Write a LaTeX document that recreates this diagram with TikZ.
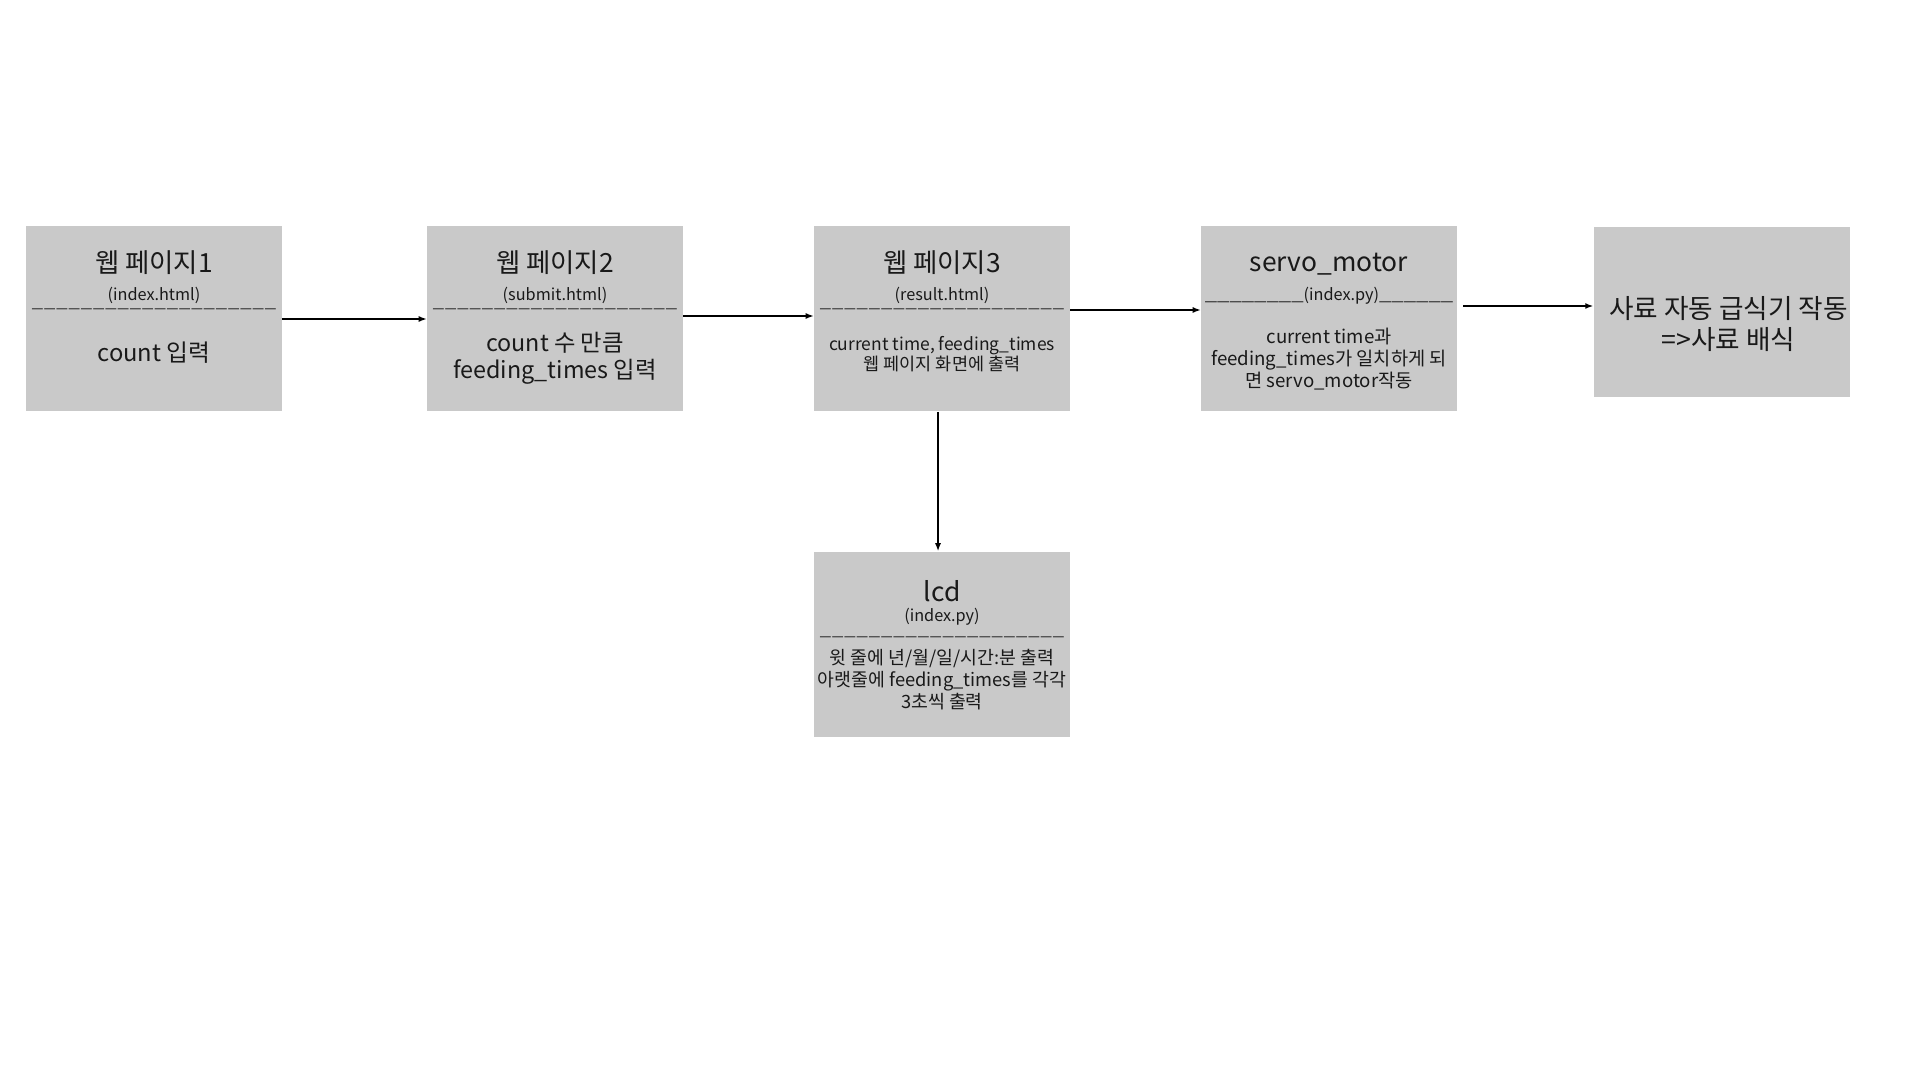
\documentclass[tikz,border=0pt]{standalone}
\usepackage{fontspec}
\usepackage{graphicx}
\setmainfont{Noto Sans CJK KR}
\usetikzlibrary{arrows.meta}
\definecolor{boxgray}{RGB}{201,201,201}
\definecolor{inkgray}{RGB}{25,25,25}

\begin{document}
\begin{tikzpicture}[x=0.75pt,y=-0.75pt,
    blk/.style={fill=boxgray, minimum width=192pt, minimum height=138.75pt, inner sep=0pt},
    ttl/.style={font=\fontsize{19.8}{22}\selectfont, text=inkgray, inner sep=0pt},
    sub/.style={font=\fontsize{12.2}{14}\selectfont, text=inkgray, inner sep=0pt},
    rulerow/.style={font=\fontsize{10}{11}\selectfont, text=inkgray, inner sep=0pt},
    body/.style={align=center, text=inkgray, inner sep=0pt},
    arr/.style={-{Latex[length=6pt,width=4.5pt]}, line width=1.1pt}]
\useasboundingbox (0,0) rectangle (1920,1080);

\node[blk] (p1) at (154,319) {};
\node[blk] (p2) at (555,319) {};
\node[blk] (p3) at (942,319) {};
\node[blk] (p4) at (1329,319) {};
\node[blk, minimum height=127.5pt] (p5) at (1721.5,312) {};
\node[blk] (lcd) at (942,644) {};

\node[ttl] (t1) at (154,263) {웹 페이지1};
\node[sub] (s1) at (154,295) {(index.html)};
\node[rulerow] (r1) at (154,312) {ㅡㅡㅡㅡㅡㅡㅡㅡㅡㅡㅡㅡㅡㅡㅡㅡㅡㅡㅡㅡ};
\node[body, font=\fontsize{17.8}{20}\selectfont] (b1) at (154,353) {count 입력};

\node[ttl] (t2) at (555,263) {웹 페이지2};
\node[sub] (s2) at (555,295) {(submit.html)};
\node[rulerow] (r2) at (555,312) {ㅡㅡㅡㅡㅡㅡㅡㅡㅡㅡㅡㅡㅡㅡㅡㅡㅡㅡㅡㅡ};
\node[body, font=\fontsize{17.5}{20.5}\selectfont] (b2) at (555,358) {count 수 만큼\\feeding\_times 입력};

\node[ttl] (t3) at (942,263) {웹 페이지3};
\node[sub] (s3) at (942,295) {(result.html)};
\node[rulerow] (r3) at (942,312) {ㅡㅡㅡㅡㅡㅡㅡㅡㅡㅡㅡㅡㅡㅡㅡㅡㅡㅡㅡㅡ};
\node[body, font=\fontsize{13.1}{15}\selectfont] (b3) at (942,354) {current time, feeding\_times\\웹 페이지 화면에 출력};

\node[ttl] (t4) at (1329,264) {servo\_motor};
\node[sub] (s4) at (1329,296) {\scalebox{1.36}[1]{\_\_\_\_\_\_\_\_}(index.py)\scalebox{1.36}[1]{\_\_\_\_\_\_}};
\node[body, font=\fontsize{14}{16.5}\selectfont] (b4) at (1329,359) {current time과\\feeding\_times가 일치하게 되\\면 servo\_motor작동};

\node[body, font=\fontsize{20}{23}\selectfont] (b5) at (1728.5,324) {사료 자동 급식기 작동\\=>사료 배식};

\node[ttl] (t6) at (942,591) {lcd};
\node[sub] (s6) at (942,617) {(index.py)};
\node[rulerow] (r6) at (942,640) {ㅡㅡㅡㅡㅡㅡㅡㅡㅡㅡㅡㅡㅡㅡㅡㅡㅡㅡㅡㅡ};
\node[body, font=\fontsize{13.75}{16.5}\selectfont] (b6) at (942,680) {윗 줄에 년/월/일/시간:분 출력\\아랫줄에 feeding\_times를 각각\\3초씩 출력};

\draw[arr] (p1.east) -- (p2.west);
\draw[arr] ([yshift=2.25pt]p2.east) -- ([yshift=2.25pt]p3.west);
\draw[arr] ([yshift=6.75pt]p3.east) -- ([yshift=6.75pt]p4.west);
\draw[arr, shorten <=4.5pt] ([yshift=9.75pt]p4.east) -- ([yshift=4.5pt]p5.west);
\draw[arr] ([xshift=-3pt]p3.south) -- ([xshift=-3pt]lcd.north);
\end{tikzpicture}
\end{document}
